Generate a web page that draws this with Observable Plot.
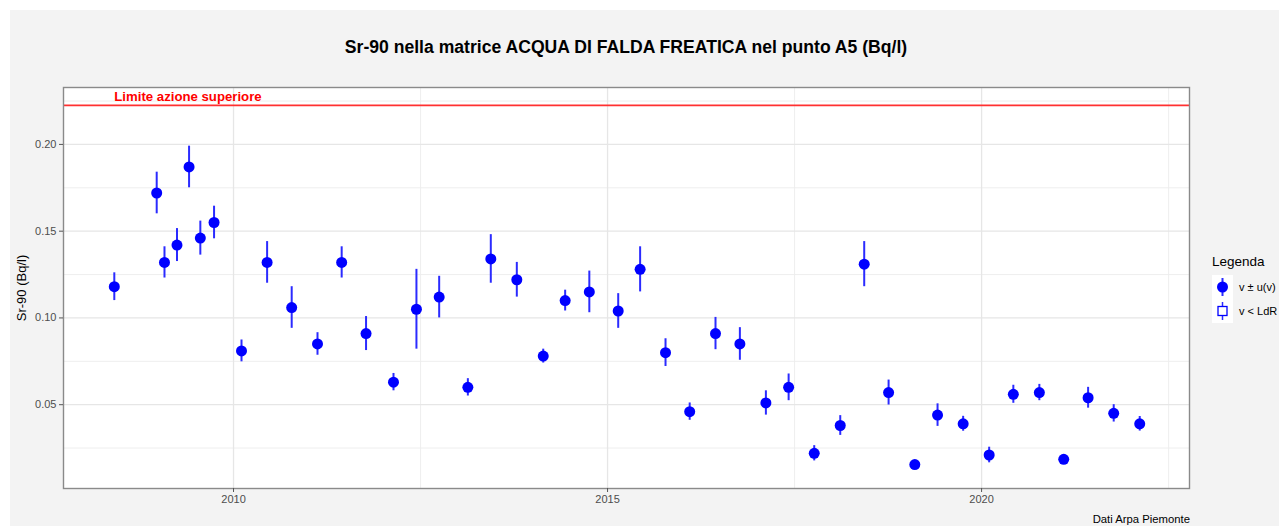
<!DOCTYPE html>
<html>
<head>
<meta charset="utf-8">
<script src="https://cdn.jsdelivr.net/npm/d3@7"></script>
<script src="https://cdn.jsdelivr.net/npm/@observablehq/plot@0.6"></script>
<style>
  html, body { margin: 0; padding: 0; background: #ffffff; }
  body { width: 1279px; height: 526px; overflow: hidden; font-family: "Liberation Sans", Arial, sans-serif; }
  #wrap { position: absolute; left: 10px; top: 10px; width: 1269px; height: 516px; background: #f3f3f3; }
  #title { position: absolute; left: 53px; width: 1126px; top: 27px; text-align: center; font-size: 17.6px; font-weight: bold; color: #000; }
  #chart { position: absolute; left: 0; top: 60px; }
  #caption { position: absolute; right: 89px; top: 503px; font-size: 11.3px; color: #000; }
  #legend { position: absolute; left: 1202px; top: 244px; white-space: nowrap; }
  #legend .lt { font-size: 13.5px; color: #000; margin-bottom: 6px; }
  #legend .row { display: flex; align-items: center; height: 24px; }
  #legend .key { width: 21px; height: 24px; background: #fff; flex: none; }
  #legend .lab { font-size: 11px; margin-left: 6px; color: #000; }
</style>
</head>
<body>
<div id="wrap">
  <div id="title"></div>
  <div id="chart"></div>
  <div id="legend"></div>
  <div id="caption"></div>
</div>
<script>
// ---- data ----
const titleText = "Sr-90 nella matrice ACQUA DI FALDA FREATICA nel punto A5 (Bq/l)";
const yLabel = "Sr-90 (Bq/l)";
const captionText = "Dati Arpa Piemonte";
const legendTitle = "Legenda";
const legendLabels = ["v ± u(v)", "v < LdR"];
const limitLabel = "Limite azione superiore";
const limitValue = 0.2225;

const dates = ["2008-05-29","2008-12-22","2009-01-29","2009-03-31","2009-05-29","2009-07-23","2009-09-28",
  "2010-02-09","2010-06-14","2010-10-12","2011-02-15","2011-06-13","2011-10-10","2012-02-21","2012-06-12",
  "2012-10-01","2013-02-18","2013-06-10","2013-10-15","2014-02-21","2014-06-08","2014-10-04","2015-02-22",
  "2015-06-09","2015-10-11","2016-02-06","2016-06-11","2016-10-08","2017-02-12","2017-06-03","2017-10-06",
  "2018-02-10","2018-06-07","2018-10-04","2019-02-09","2019-05-31","2019-10-03","2020-02-07","2020-06-04",
  "2020-10-09","2021-02-05","2021-06-04","2021-10-07","2022-02-11"];
const values = [0.118,0.172,0.132,0.142,0.187,0.146,0.155,
  0.081,0.132,0.106,0.085,0.132,0.091,0.063,0.105,
  0.112,0.060,0.134,0.122,0.078,0.110,0.115,0.104,
  0.128,0.080,0.046,0.091,0.085,0.051,0.060,0.022,
  0.038,0.131,0.057,0.0155,0.044,0.039,0.021,0.056,
  0.057,0.0185,0.054,0.045,0.039];
const uncert = [0.008,0.012,0.009,0.0095,0.012,0.0098,0.0094,
  0.0063,0.012,0.012,0.0065,0.009,0.0098,0.005,0.023,
  0.012,0.005,0.014,0.010,0.004,0.006,0.012,0.010,
  0.013,0.008,0.005,0.0093,0.0094,0.007,0.0077,0.0044,
  0.0057,0.013,0.0072,0.002,0.0065,0.0043,0.0045,0.0052,
  0.0047,0.002,0.006,0.005,0.0042];
const yTicks = [0.05, 0.10, 0.15, 0.20];
const yMinor = [0.025, 0.075, 0.125, 0.175, 0.225];
const xTickYears = ["2010-01-01", "2015-01-01", "2020-01-01"];
const xMinorDates = ["2012-07-02", "2017-07-02", "2022-07-02"];
const xDomain = ["2007-09-24", "2022-10-12"];
const yDomain = [0.0017, 0.2328];

// ---- build ----
const data = dates.map((d, i) => ({date: new Date(d), v: values[i], u: uncert[i]}));
const xTicks = xTickYears.map(d => new Date(d));
const xMinor = xMinorDates.map(d => new Date(d));

document.getElementById("title").textContent = titleText;
document.getElementById("caption").textContent = captionText;

const chart = Plot.plot({
  width: 1190,
  height: 442,
  marginLeft: 53,
  marginRight: 11,
  marginTop: 17,
  marginBottom: 24,
  style: {background: "transparent", fontFamily: "Liberation Sans, Arial, sans-serif"},
  x: {type: "utc", domain: xDomain.map(d => new Date(d))},
  y: {domain: yDomain},
  marks: [
    Plot.frame({fill: "#ffffff", stroke: "none"}),
    Plot.ruleY(yMinor, {stroke: "#ececec", strokeWidth: 0.9}),
    Plot.ruleX(xMinor, {stroke: "#ececec", strokeWidth: 0.9}),
    Plot.ruleY(yTicks, {stroke: "#e6e6e6", strokeWidth: 1.3}),
    Plot.ruleX(xTicks, {stroke: "#e6e6e6", strokeWidth: 1.3}),
    Plot.ruleY([limitValue], {stroke: "#ff3030", strokeWidth: 1.8}),
    Plot.text([limitLabel], {x: () => data[0].date, y: () => limitValue, text: d => d, dy: -9,
      textAnchor: "start", fill: "#ff0000", fontWeight: "bold", fontSize: 13.2}),
    Plot.ruleX(data, {x: "date", y1: d => d.v - d.u, y2: d => d.v + d.u, stroke: "#2b2bff", strokeWidth: 2}),
    Plot.dot(data, {x: "date", y: "v", r: 5.5, fill: "#0000ff", stroke: "none"}),
    Plot.frame({stroke: "#8a8a8a", strokeWidth: 1.4}),
    Plot.axisY({ticks: yTicks, tickFormat: d3.format(".2f"), tickSize: 4, tickPadding: 3,
      fontSize: 11, color: "#4d4d4d", stroke: "#555",
      label: yLabel, labelAnchor: "center", labelArrow: "none", labelOffset: 47}),
    Plot.axisX({ticks: xTicks, tickFormat: d3.utcFormat("%Y"), tickSize: 4, tickPadding: 3,
      fontSize: 11, color: "#4d4d4d", stroke: "#555", label: null})
  ]
});
document.getElementById("chart").appendChild(chart);

// y-label styling
chart.querySelectorAll("g[aria-label='y-axis label'] text").forEach(t => {
  t.setAttribute("fill", "#000"); t.style.fontSize = "13px";
});

// legend
const lg = document.getElementById("legend");
const lt = document.createElement("div"); lt.className = "lt"; lt.textContent = legendTitle; lg.appendChild(lt);
const keys = [
  '<svg width="21" height="24"><line x1="10.5" y1="3" x2="10.5" y2="21" stroke="#2b2bff" stroke-width="2"/><circle cx="10.5" cy="12" r="5.5" fill="#0000ff"/></svg>',
  '<svg width="21" height="24"><line x1="10.5" y1="3" x2="10.5" y2="21" stroke="#2b2bff" stroke-width="1.5"/><rect x="6" y="7.5" width="9" height="9" fill="#fff" stroke="#0000ff" stroke-width="1.3"/></svg>'
];
legendLabels.forEach((l, i) => {
  const row = document.createElement("div"); row.className = "row";
  row.innerHTML = '<div class="key">' + keys[i] + '</div><div class="lab"></div>';
  row.querySelector(".lab").textContent = l;
  lg.appendChild(row);
});
</script>
</body>
</html>
